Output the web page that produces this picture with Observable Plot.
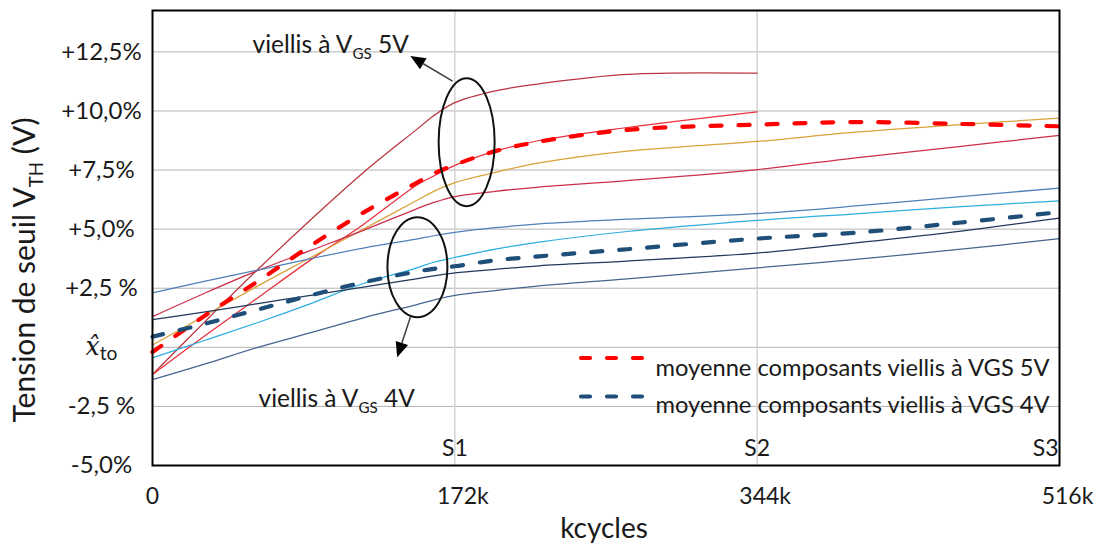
<!DOCTYPE html>
<html><head><meta charset="utf-8">
<script src="https://cdn.jsdelivr.net/npm/d3@7"></script>
<script src="https://cdn.jsdelivr.net/npm/@observablehq/plot@0.6"></script>
<style>body{margin:0;background:#fff}</style>
</head><body><div id="chart"></div>
<script>
// ---- data (kcycles, threshold-voltage shift in %) ----
const kcycles = [0, 30, 60, 90, 120, 150, 160, 172, 195, 220, 270, 344, 400, 460, 516];
const vgs5_a = [-1.15, 1.1, 3.3, 5.4, 7.4, 9.2, 9.8, 10.35, 10.85, 11.15, 11.55, 11.6];   // ends at S2
const vgs5_b = [-1.15, 0.5, 2.1, 3.7, 5.2, 6.85, 7.25, 7.7, 8.3, 8.75, 9.3, 9.96];         // ends at S2
const vgs5_c = [0.1, 1.35, 2.6, 3.8, 5.0, 6.2, 6.6, 6.97, 7.4, 7.8, 8.3, 8.71, 9.1, 9.42, 9.7];
const vgs5_d = [1.3, 2.3, 3.25, 4.1, 4.95, 5.85, 6.13, 6.38, 6.6, 6.78, 7.05, 7.52, 8.02, 8.5, 8.97];
const vgs5_mean = [-0.2, 1.35, 2.8, 4.3, 5.7, 6.95, 7.35, 7.72, 8.3, 8.7, 9.2, 9.42, 9.53, 9.45, 9.35];
const vgs4_a = [2.3, 2.8, 3.27, 3.75, 4.2, 4.58, 4.72, 4.86, 5.06, 5.22, 5.42, 5.66, 5.98, 6.38, 6.74];
const vgs4_b = [-0.45, 0.3, 1.05, 1.85, 2.7, 3.35, 3.6, 3.8, 4.15, 4.45, 4.9, 5.37, 5.65, 5.95, 6.2];
const vgs4_c = [1.17, 1.5, 1.85, 2.2, 2.55, 2.9, 3.02, 3.15, 3.3, 3.45, 3.65, 3.99, 4.42, 4.92, 5.47];
const vgs4_d = [-1.37, -0.7, 0.0, 0.62, 1.25, 1.8, 2.0, 2.2, 2.4, 2.6, 2.9, 3.36, 3.72, 4.15, 4.6];
const vgs4_mean = [0.45, 1.0, 1.6, 2.2, 2.75, 3.2, 3.32, 3.43, 3.68, 3.85, 4.15, 4.6, 4.85, 5.28, 5.72];

const xTicks = [0, 172, 344, 516];
const xTickLabels = ["0", "172k", "344k", "516k"];
const stageTicks = [172, 344, 516];
const stageLabels = ["S1", "S2", "S3"];
const yTicks = [-5, -2.5, 0, 2.5, 5, 7.5, 10, 12.5];
const yTickLabels = ["-5,0%", "-2,5 %", "x\u0302_{to}", "+2,5 %", "+5,0%", "+7,5%", "+10,0%", "+12,5%"];
const legendLabels = ["moyenne composants viellis à VGS 5V", "moyenne composants viellis à VGS 4V"];
const groupLabels = ["viellis à V_{GS} 5V", "viellis à V_{GS} 4V"];
const yTitle = "Tension de seuil V_{TH} (V)";
const xTitle = "kcycles";

// ---- styles ----
const colors = {
  vgs5_a: "#b8343f", vgs5_b: "#e8303c", vgs5_c: "#d9a23a", vgs5_d: "#cc2f4c", vgs5_mean: "#ff0000",
  vgs4_a: "#4f7fb8", vgs4_b: "#2eaee0", vgs4_c: "#22395c", vgs4_d: "#46668f", vgs4_mean: "#1f4e79"
};
const seriesList = {vgs5_a, vgs5_b, vgs5_c, vgs5_d, vgs4_a, vgs4_b, vgs4_c, vgs4_d, vgs5_mean, vgs4_mean};
const rows = Object.entries(seriesList).flatMap(([name, vals]) => vals.map((v, i) => ({k: kcycles[i], v, series: name})));
const thin = rows.filter(r => !r.series.endsWith("mean"));
const means = rows.filter(r => r.series.endsWith("mean"));

const FONT = "Lato, 'Open Sans', sans-serif";
const TXT = "#1a1a1a";
const yLab = yTicks.map((t, i) => ({t, label: yTickLabels[i]}));
const xLab = xTicks.map((t, i) => ({t, label: xTickLabels[i]}));
const sLab = stageTicks.map((t, i) => ({t, label: stageLabels[i]}));

const plot = Plot.plot({
  width: 1103, height: 554,
  marginLeft: 152, marginRight: 44, marginTop: 10, marginBottom: 89,
  x: {domain: [0, 516], axis: null},
  y: {domain: [-5, 14.25], axis: null},
  color: {type: "identity"},
  style: {fontFamily: FONT, background: "#fff", color: TXT},
  marks: [
    Plot.gridY(yTicks.filter(t => t > -5), {stroke: "#b3b3b3", strokeOpacity: 1, strokeWidth: 1}),
    Plot.gridX(stageTicks.filter(t => t < 516), {stroke: "#d4d4d4", strokeOpacity: 1, strokeWidth: 1.5}),
    Plot.line(thin, {x: "k", y: "v", z: "series", stroke: d => colors[d.series], strokeWidth: 1.25, curve: "catmull-rom"}),
    Plot.line(means, {x: "k", y: "v", z: "series", stroke: d => colors[d.series], strokeWidth: 4.2,
      strokeDasharray: "11,17", strokeLinecap: "round", curve: "catmull-rom"}),
    Plot.frame({stroke: "#000", strokeWidth: 2}),
    // y tick labels
    Plot.text(yLab, {y: "t", text: "label", frameAnchor: "left", dx: -51, textAnchor: "middle",
      fontSize: 24, fill: TXT, className: "rich"}),
    // x tick labels
    Plot.text(xLab.filter(d => d.t === 0), {x: "t", text: "label", frameAnchor: "bottom", dy: 38, fontSize: 23, fill: TXT}),
    Plot.text(xLab.filter(d => d.t !== 0), {x: "t", text: "label", frameAnchor: "bottom", dy: 38, dx: 8, fontSize: 23, fill: TXT}),
    // stage labels
    Plot.text(sLab.filter(d => d.t < 516), {x: "t", text: "label", frameAnchor: "bottom", dy: -10, fontSize: 23, fill: TXT}),
    Plot.text(sLab.filter(d => d.t === 516), {x: "t", text: "label", frameAnchor: "bottom", dy: -10, dx: -1, textAnchor: "end", fontSize: 23, fill: TXT}),
    // axis titles
    Plot.text([yTitle], {frameAnchor: "left", textAnchor: "middle", dx: -127, dy: 32, rotate: -90, fontSize: 30, fill: TXT, className: "rich"}),
    Plot.text([xTitle], {frameAnchor: "bottom", dx: -2, dy: 72, fontSize: 28, fill: TXT}),
    // group annotations
    Plot.text([groupLabels[0]], {frameAnchor: "top-left", dx: 100, dy: 25, textAnchor: "start", fontSize: 24.5, fill: TXT, className: "rich"}),
    Plot.text([groupLabels[1]], {frameAnchor: "top-left", dx: 106, dy: 379, textAnchor: "start", fontSize: 24.5, fill: TXT, className: "rich"}),
    // legend labels
    Plot.text([legendLabels[0]], {frameAnchor: "top-left", dx: 503, dy: 349, textAnchor: "start", fontSize: 23.7, fill: TXT}),
    Plot.text([legendLabels[1]], {frameAnchor: "top-left", dx: 503, dy: 386, textAnchor: "start", fontSize: 23.7, fill: TXT})
  ]
});

const svg = d3.select(plot);
// rich text: subscripts marked as _{...}
svg.selectAll("g.rich text").each(function () {
  const el = d3.select(this);
  const raw = this.textContent;
  const fs = parseFloat(el.attr("font-size") || d3.select(this.parentNode).attr("font-size")) || 22;
  const parts = raw.split(/_\{([^}]*)\}/);
  if (parts.length === 1) return;
  el.text(null);
  const isHat = parts[0] === "x\u0302";
  const subDy = isHat ? fs * 0.22 : fs * 0.25;
  parts.forEach((p, i) => {
    if (p === "") return;
    const ts = el.append("tspan").text(p);
    if (i % 2 === 1) {
      ts.attr("dy", subDy).attr("font-size", fs * (isHat ? 0.8 : 0.62));
    } else if (i > 0) {
      ts.attr("dy", -subDy);
    }
    if (p === "x\u0302") ts.attr("font-family", "'DejaVu Serif', serif").attr("font-style", "italic").attr("font-size", fs * 1.05);
  });
});

// annotations (ellipses + arrows) positioned through the plot's own scales
const sx = plot.scale("x"), sy = plot.scale("y");
const ellipses = [{k: 179, v: 8.66, rx: 28, ry: 64}, {k: 151, v: 3.37, rx: 30, ry: 50}];
const arrows = [{k1: 171, v1: 11.24, k2: 147, v2: 12.3}, {k1: 147, v1: 1.26, k2: 139.5, v2: -0.44}];
const ann = svg.append("g");
ellipses.forEach(e => ann.append("ellipse")
  .attr("cx", sx.apply(e.k)).attr("cy", sy.apply(e.v)).attr("rx", e.rx).attr("ry", e.ry)
  .attr("fill", "none").attr("stroke", "#111").attr("stroke-width", 2));
arrows.forEach(a => {
  const x1 = sx.apply(a.k1), y1 = sy.apply(a.v1), x2 = sx.apply(a.k2), y2 = sy.apply(a.v2);
  const ang = Math.atan2(y2 - y1, x2 - x1), L = 15, W = 6.5;
  const bx = x2 - L * Math.cos(ang), by = y2 - L * Math.sin(ang);
  ann.append("line").attr("x1", x1).attr("y1", y1).attr("x2", bx).attr("y2", by)
    .attr("stroke", "#404040").attr("stroke-width", 1.5);
  ann.append("path").attr("d", `M${x2},${y2}L${bx - W * Math.sin(ang)},${by + W * Math.cos(ang)}L${bx + W * Math.sin(ang)},${by - W * Math.cos(ang)}Z`)
    .attr("fill", "#000");
});
// legend samples
const legendColors = [colors.vgs5_mean, colors.vgs4_mean];
legendColors.forEach((c, i) => {
  const y = 358 + i * 38.5;
  ann.append("line").attr("x1", 581).attr("x2", 648).attr("y1", y).attr("y2", y)
    .attr("stroke", c).attr("stroke-width", 4.2).attr("stroke-dasharray", "9,17").attr("stroke-linecap", "round");
});

document.getElementById("chart").appendChild(plot);
</script>
</body></html>
